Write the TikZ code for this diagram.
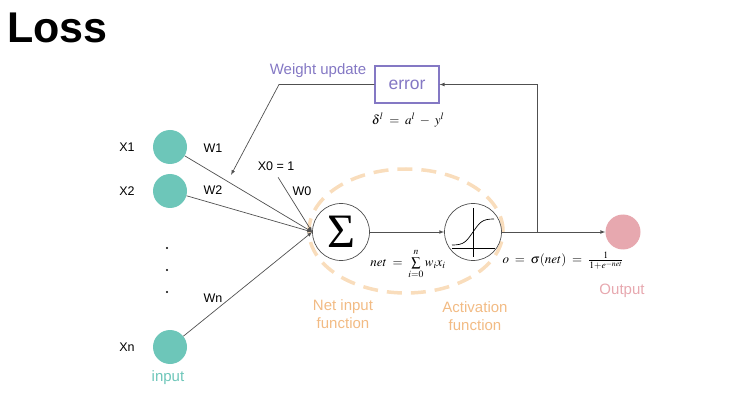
\documentclass[tikz,border=0pt]{standalone}
\usepackage{mathptmx}
\usepackage[no-math]{fontspec}
\setmainfont{Liberation Sans}
\newfontfamily\greekfont{Liberation Serif}
\definecolor{inputteal}{HTML}{6DC6B9}
\definecolor{updatepurple}{HTML}{8478C4}
\definecolor{funcorange}{HTML}{F2BB84}
\definecolor{ringorange}{HTML}{F9DDBC}
\definecolor{outpink}{HTML}{E7A8AF}
\definecolor{linegray}{HTML}{505050}

\begin{document}
\begin{tikzpicture}[x=1pt,y=-1pt,>=latex,font=\fontsize{12.5}{15}\selectfont,
  inputnode/.style={circle,fill=inputteal,minimum size=34pt,inner sep=0pt},
  unitnode/.style={circle,draw=linegray,line width=.7pt,fill=white,minimum size=57pt,inner sep=0pt},
  wire/.style={->,draw=linegray,line width=.7pt},
  formula/.style={font=\fontsize{13}{15}\selectfont,inner sep=1pt},
  caption/.style={align=center,font=\fontsize{15}{18}\selectfont}]
\path[use as bounding box] (0,0) rectangle (738,403);
\node[anchor=base west,inner sep=0pt,font=\fontsize{43}{48}\selectfont\bfseries] (title) at (7,43) {Loss};
% dashed ring round the two units
\draw[draw=ringorange,line width=3.5pt,dash pattern=on 15pt off 9pt] (406,231) ellipse [x radius=97pt,y radius=62pt];
% inputs
\node[inputnode] (x1) at (170,147) {};
\node[inputnode] (x2) at (170,191) {};
\node[inputnode] (xn) at (170,347) {};
\node (lx1) at (127,147) {X1};
\node (lx2) at (127,191) {X2};
\node (lxn) at (127,347) {Xn};
\foreach \y in {248,270,292}{\fill (167,\y) circle (1.1pt);}
\node[caption,text=inputteal] (inlabel) at (168,378) {input};
% units
\node[unitnode] (sum) at (341,232) {\greekfont\fontsize{48}{48}\selectfont Σ};
\node[unitnode] (act) at (473,232) {};
\draw[line width=.7pt] ([shift={(0,-24)}]act.center) -- ++(0,49);
\draw[line width=.7pt] ([shift={(-21,16)}]act.center) -- ++(43,0);
\draw[line width=.7pt] ([shift={(-21,13)}]act.center) .. controls ++(12,0) and ++(-7,10) .. ([shift={(0,0)}]act.center) .. controls ++(7,-10) and ++(-12,0) .. ([shift={(21,-13)}]act.center);
\node[circle,fill=outpink,minimum size=35pt,inner sep=0pt] (out) at (623,232) {};
% error box
\node[draw=updatepurple,line width=1.2pt,minimum width=64pt,minimum height=37pt,text=updatepurple,font=\fontsize{17.5}{20}\selectfont] (error) at (407,84.5) {error};
\node[text=updatepurple,font=\fontsize{15}{18}\selectfont] (update) at (318,71) {Weight update};
\node[formula] (delta) at (408,120) {$\delta^l \;=\; a^l \;-\; y^l$};
% weights
\node (x0) at (276,166) {X0 = 1};
\node (w1) at (213,148) {W1};
\node (w2) at (213,190) {W2};
\node (wn) at (213,298) {Wn};
\node (w0) at (302,191) {W0};
\draw[wire] (x1) -- (sum.west);
\draw[wire] (x2) -- (sum.west);
\draw[wire] (xn) -- (sum.west);
\draw[wire,shorten <=4pt] (x0.south) -- (sum.west);
\draw[wire] (sum) -- (act);
\draw[wire] (act) -- (out);
% feedback
\coordinate (split) at (537,232);
\coordinate (wucorner) at (279,84.5);
\coordinate (wuend) at (231,175);
\draw[wire] (split) |- (error.east);
\draw[wire] (error.west) -- (wucorner) -- (wuend);
% formulas and captions
\node[formula] (netf) at (408,264) {$net \;=\; \sum\limits_{i=0}^{n} w_i x_i$};
\node[formula] (outf) at (563,261) {$o \;=\; \sigma(net) \;=\; \frac{1}{1+e^{-net}}$};
\node[caption,text=funcorange] (netcap) at (343,314) {Net input\\function};
\node[caption,text=funcorange] (actcap) at (475,316) {Activation\\function};
\node[caption,text=outpink] (outcap) at (622,291) {Output};
\end{tikzpicture}
\end{document}
